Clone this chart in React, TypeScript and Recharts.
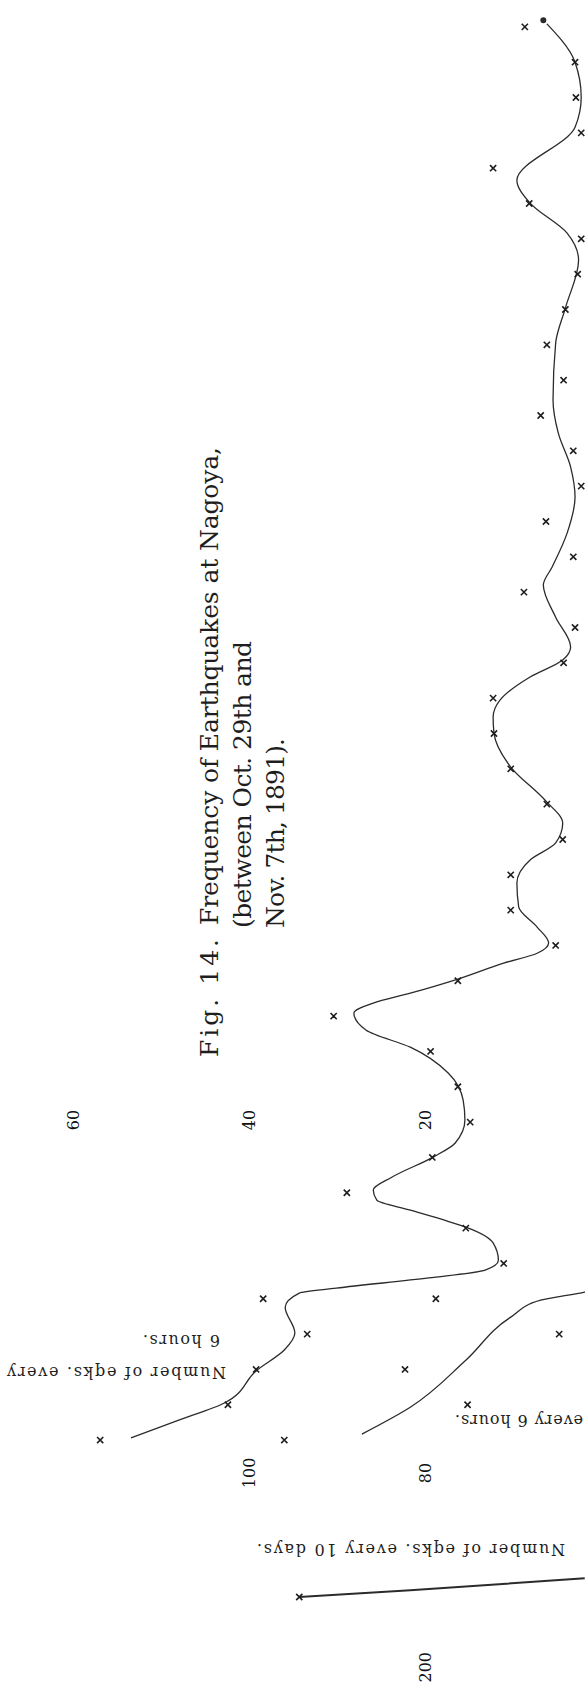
import { ComposedChart, Line, Scatter, XAxis, YAxis, ReferenceDot } from 'recharts';

// counts every 6 hours, index = interval number (bottom of the page is the first one)
const sixHourCounts = [
  56.9, 42.4, 39.2, 33.4, 38.4, 11.1, 15.4, 28.9, 19.2, 14.9, 16.3, 19.4, 30.4, 16.3, 5.2, 10.3, 10.3,
  4.4, 6.2, 10.3, 12.2, 12.3, 4.3, 3.0, 8.8, 3.2, 6.3, 2.3, 3.2, 6.9, 4.3, 6.2, 4.1, 2.7, 2.3, 8.2,
  12.3, 2.3, 2.9, 3.0, 8.7,
];

// hand drawn smoothing curve through the 6-hour counts: [interval, count]
const sixHourCurve: [number, number][] = [
  [0.06, 53.4], [0.57, 47.9], [1.05, 42.8], [1.98, 39.1], [2.55, 36.0], [3.03, 34.8], [3.76, 35.9],
  [4.16, 34.3], [4.3, 30.1], [4.59, 19.6], [4.81, 13.2], [5.09, 11.7], [5.58, 12.3], [6.03, 15.4],
  [6.23, 17.9], [6.51, 21.7], [6.79, 25.5], [7.08, 25.9], [7.44, 23.8], [8.01, 19.1], [8.41, 16.6],
  [9.06, 15.5], [9.62, 15.7], [10.39, 17.4], [11.12, 21.7], [11.6, 26.7], [12.09, 28.1], [12.37, 25.9],
  [12.65, 21.7], [13.05, 16.3], [13.5, 11.1], [13.78, 7.3], [14.07, 6.0], [14.52, 7.3], [15.09, 9.4],
  [15.77, 9.6], [16.42, 8.1], [16.9, 5.2], [17.46, 4.4], [18.11, 6.4], [19.05, 10.3], [20.01, 12.2],
  [20.46, 12.3], [20.95, 11.5], [21.6, 8.1], [22.08, 4.4], [22.45, 3.5], [23.29, 5.2], [24.2, 6.6],
  [24.71, 5.6], [25.67, 3.9], [26.69, 3.0], [27.54, 3.5], [28.5, 4.9], [29.44, 5.5], [31.05, 5.2],
  [32.04, 4.1], [33.4, 2.6], [34.16, 3.9], [35.01, 8.1], [35.66, 9.6], [37.16, 3.0], [38.01, 2.3],
  [39.0, 3.0], [40.19, 6.6],
];

// second 6-hour series, drawn on the shifted scale (100, 80)
const earlyCounts = [96.0, 75.2, 82.3, 64.8, 78.8];
const earlyCurve: [number, number][] = [
  [0.17, 87.2], [0.93, 81.7], [2.26, 75.4], [3.48, 70.3], [3.96, 66.9], [4.19, 61.9], [4.6, 56.8],
];

// counts every 10 days
const tenDayPoints: [number, number][] = [[-4.44, 343]];
const tenDayCurve: [number, number][] = [[-4.44, 343], [-4.25, 217], [-3.91, 19]];

const upperTicks = [60, 40, 20];
const lowerTicks = [100, 80];
const tenDayTicks = [200];
const upperTickRow = 9.06;
const lowerTickRow = -0.93;
const tenDayTickRow = -6.43;

const ink = '#1e1e1e';
const serif = '"DejaVu Serif", "Liberation Serif", serif';

const toRows = (pairs: [number, number][]) => pairs.map(([t, v]) => ({ t, v }));

function Cross(props: any) {
  const { cx, cy } = props;
  if (cx == null || cy == null) return null;
  const s = 3.1;
  return (
    <path
      d={`M${cx - s},${cy - s}L${cx + s},${cy + s}M${cx + s},${cy - s}L${cx - s},${cy + s}`}
      stroke={ink}
      strokeWidth={1.6}
      fill="none"
    />
  );
}

function tickLabel(value: number) {
  return { value: String(value), angle: -90, position: 'center' as const, fontSize: 16, fill: '#111', fontFamily: serif };
}

export default function App() {
  const mainMarkers = sixHourCounts.map((v, t) => ({ t, v }));
  const earlyMarkers = earlyCounts.map((v, t) => ({ t, v }));

  return (
    <div style={{ position: 'relative', width: 585, height: 1692, background: '#fff' }}>
      <style>{'body{margin:0}'}</style>
      <ComposedChart width={585} height={1692} layout="vertical" margin={{ top: 0, right: 0, bottom: 0, left: 0 }}>
        <XAxis xAxisId="a" type="number" dataKey="v" domain={[1.87, 68.27]} reversed hide allowDataOverflow />
        <XAxis xAxisId="b" type="number" dataKey="v" domain={[61.87, 128.27]} reversed hide allowDataOverflow />
        <XAxis xAxisId="c" type="number" dataKey="v" domain={[18.7, 682.7]} reversed hide allowDataOverflow />
        <YAxis type="number" dataKey="t" domain={[-7.13, 40.76]} reversed hide allowDataOverflow />

        <Line xAxisId="a" data={toRows(sixHourCurve)} dataKey="v" type="monotone" stroke="#2b2b2b" strokeWidth={1.3} dot={false} isAnimationActive={false} />
        <Scatter xAxisId="a" data={mainMarkers} shape={Cross} isAnimationActive={false} />

        <Line xAxisId="b" data={toRows(earlyCurve)} dataKey="v" type="monotone" stroke="#2b2b2b" strokeWidth={1.3} dot={false} isAnimationActive={false} />
        <Scatter xAxisId="b" data={earlyMarkers} shape={Cross} isAnimationActive={false} />

        <Line xAxisId="c" data={toRows(tenDayCurve)} dataKey="v" type="monotone" stroke="#2b2b2b" strokeWidth={2} dot={false} isAnimationActive={false} />
        <Scatter xAxisId="c" data={toRows(tenDayPoints)} shape={Cross} isAnimationActive={false} />

        {upperTicks.map((v) => (
          <ReferenceDot key={`u${v}`} xAxisId="a" x={v} y={upperTickRow} r={0} fill="none" stroke="none" label={tickLabel(v)} />
        ))}
        {lowerTicks.map((v) => (
          <ReferenceDot key={`l${v}`} xAxisId="b" x={v} y={lowerTickRow} r={0} fill="none" stroke="none" label={tickLabel(v)} />
        ))}
        {tenDayTicks.map((v) => (
          <ReferenceDot key={`d${v}`} xAxisId="c" x={v} y={tenDayTickRow} r={0} fill="none" stroke="none" label={tickLabel(v)} />
        ))}
      </ComposedChart>

      <svg width={585} height={1692} style={{ position: 'absolute', left: 0, top: 0, pointerEvents: 'none' }} fontFamily={serif} fill={ink}>
        {/* title, printed sideways */}
        <text x={218} y={1057} fontSize={25} transform="rotate(-90 218 1057)" textLength={118} lengthAdjust="spacing">Fig. 14.</text>
        <text x={218} y={925} fontSize={25} transform="rotate(-90 218 925)" textLength={478} lengthAdjust="spacing">Frequency of Earthquakes at Nagoya,</text>
        <text x={251} y={928} fontSize={25} transform="rotate(-90 251 928)" textLength={287} lengthAdjust="spacing">(between Oct. 29th and</text>
        <text x={284} y={928} fontSize={25} transform="rotate(-90 284 928)" textLength={190} lengthAdjust="spacing">Nov. 7th, 1891).</text>

        {/* curve captions, upside down */}
        <text x={226} y={1367} fontSize={16} transform="rotate(180 226 1367)" textLength={219} lengthAdjust="spacing">Number of eqks. every</text>
        <text x={220} y={1335} fontSize={16} transform="rotate(180 220 1335)" textLength={77} lengthAdjust="spacing">6 hours.</text>
        <text x={583} y={1415} fontSize={16} transform="rotate(180 583 1415)" textLength={128} lengthAdjust="spacing">every 6 hours.</text>
        <text x={565} y={1544} fontSize={16} transform="rotate(180 565 1544)" textLength={308} lengthAdjust="spacing">Number of eqks. every 10 days.</text>
      </svg>
    </div>
  );
}
